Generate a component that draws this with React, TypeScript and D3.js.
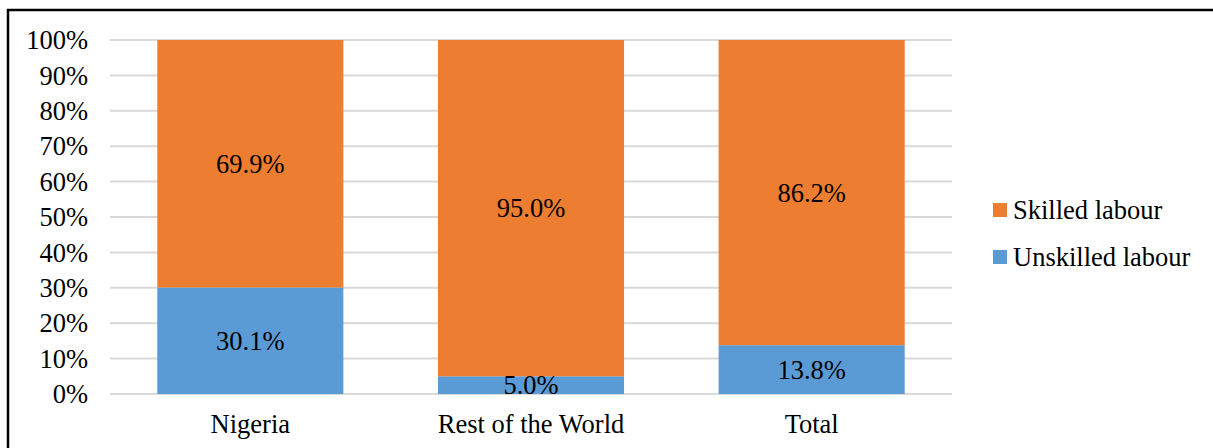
import React from "react";
import * as d3 from "d3";

const categories = ["Nigeria", "Rest of the World", "Total"];
const unskilled = [30.1, 5.0, 13.8];
const skilled = [69.9, 95.0, 86.2];
const seriesNames = ["Skilled labour", "Unskilled labour"];
const yTicks = [0, 10, 20, 30, 40, 50, 60, 70, 80, 90, 100];

const W = 1213;
const H = 448;
const ORANGE = "#ED7D31";
const BLUE = "#5B9BD5";
const FONT = "'Liberation Serif', 'Times New Roman', serif";
const FS = 26.5;

export default function App() {
  const x = d3.scaleBand<string>().domain(categories).range([110, 952]).padding(0);
  const y = d3.scaleLinear().domain([0, 100]).range([394, 40]);
  const barW = x.bandwidth() * 0.663;

  const stacks = categories.map((c, i) => ({
    cat: c,
    segs: [
      { v0: 0, v1: unskilled[i], val: unskilled[i], color: BLUE },
      { v0: unskilled[i], v1: unskilled[i] + skilled[i], val: skilled[i], color: ORANGE },
    ],
  }));

  const legend = [
    { name: seriesNames[0], color: ORANGE },
    { name: seriesNames[1], color: BLUE },
  ];

  return (
    <svg
      width={W}
      height={H}
      style={{ position: "absolute", left: 0, top: 0, background: "#fff" }}
      fontFamily={FONT}
    >
      <rect x={0} y={0} width={W} height={H} fill="#fff" />
      {yTicks.map((t) => (
        <g key={t}>
          <line x1={110} x2={952} y1={y(t)} y2={y(t)} stroke="#d9d9d9" strokeWidth={2} />
          <text x={88} y={y(t)} dy="0.35em" textAnchor="end" fontSize={FS} fill="#000">
            {t}%
          </text>
        </g>
      ))}
      {stacks.map((s) => {
        const cx = (x(s.cat) as number) + x.bandwidth() / 2;
        return (
          <g key={s.cat}>
            {s.segs.map((g, j) => (
              <rect
                key={j}
                x={cx - barW / 2}
                y={y(g.v1)}
                width={barW}
                height={y(g.v0) - y(g.v1)}
                fill={g.color}
              />
            ))}
            {s.segs.map((g, j) => (
              <text
                key={"t" + j}
                x={cx}
                y={(y(g.v0) + y(g.v1)) / 2}
                dy="0.35em"
                textAnchor="middle"
                fontSize={FS}
                fill="#000"
              >
                {g.val.toFixed(1)}%
              </text>
            ))}
            <text x={cx} y={433} textAnchor="middle" fontSize={FS} fill="#000">
              {s.cat}
            </text>
          </g>
        );
      })}
      {legend.map((l, i) => (
        <g key={l.name} transform={`translate(993, ${203 + i * 47})`}>
          <rect x={0} y={0} width={14} height={14} fill={l.color} />
          <text x={20} y={7} dy="0.35em" fontSize={FS} fill="#000">
            {l.name}
          </text>
        </g>
      ))}
      <rect x={8} y={10} width={W + 20} height={H + 20} fill="none" stroke="#000" strokeWidth={2.5} />
    </svg>
  );
}
